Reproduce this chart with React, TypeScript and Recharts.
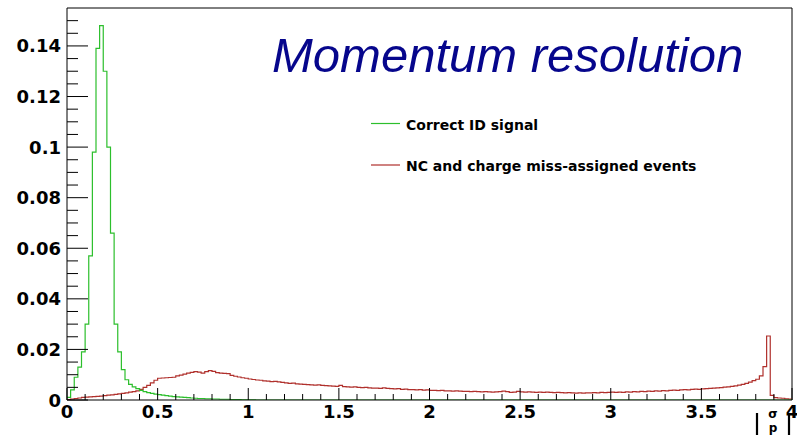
import React from 'react';
import { LineChart, Line, XAxis, YAxis, ReferenceLine, Legend } from 'recharts';

// Histogram bins: width 0.02 over |sigma/p| in [0, 4]
const BIN_WIDTH = 0.02;
const N_BINS = 200;

// Correct ID signal (green)
const correctIdSignal = [
  0.001, 0.004, 0.009, 0.013, 0.019, 0.030, 0.057, 0.098, 0.139, 0.148,
  0.130, 0.100, 0.066, 0.030, 0.019, 0.012, 0.008, 0.0062, 0.0052, 0.0045,
  0.0038, 0.0033, 0.0029, 0.0026, 0.0023, 0.0021, 0.0019, 0.0017, 0.0015, 0.0013,
  0.0012, 0.0011, 0.0010, 0.0009, 0.0008, 0.0007, 0.0006, 0.0006, 0.0005, 0.0005,
  0.0004, 0.0004, 0.0003, 0.0003, 0.0003, 0.0002, 0.0002, 0.0002, 0.0001, 0.0001,
  0.0001, 0.0001, 0, 0, 0, 0, 0, 0, 0, 0,
  0, 0, 0, 0, 0, 0, 0, 0, 0, 0,
  0, 0, 0, 0, 0, 0, 0, 0, 0, 0,
  0, 0, 0, 0, 0, 0, 0, 0, 0, 0,
  0, 0, 0, 0, 0, 0, 0, 0, 0, 0,
  0, 0, 0, 0, 0, 0, 0, 0, 0, 0,
  0, 0, 0, 0, 0, 0, 0, 0, 0, 0,
  0, 0, 0, 0, 0, 0, 0, 0, 0, 0,
  0, 0, 0, 0, 0, 0, 0, 0, 0, 0,
  0, 0, 0, 0, 0, 0, 0, 0, 0, 0,
  0, 0, 0, 0, 0, 0, 0, 0, 0, 0,
  0, 0, 0, 0, 0, 0, 0, 0, 0, 0,
  0, 0, 0, 0, 0, 0, 0, 0, 0, 0,
  0, 0, 0, 0, 0, 0, 0, 0, 0, 0,
  0, 0, 0, 0, 0, 0, 0, 0, 0, 0,
];

// NC and charge miss-assigned events (red)
const missAssigned = [
  0.0002, 0.0004, 0.0006, 0.0008, 0.001, 0.0011, 0.0012, 0.0013, 0.0014, 0.0015,
  0.0017, 0.0019, 0.002, 0.0022, 0.0024, 0.0026, 0.0028, 0.0031, 0.0033, 0.0036,
  0.0042, 0.005, 0.0058, 0.0068, 0.0078, 0.0086, 0.0087, 0.0088, 0.0089, 0.009,
  0.0095, 0.0098, 0.0102, 0.0106, 0.0109, 0.0112, 0.011, 0.0106, 0.0112, 0.0116,
  0.0113, 0.0108, 0.0106, 0.0105, 0.0104, 0.0097, 0.0094, 0.0091, 0.0088, 0.0086,
  0.0083, 0.0081, 0.0079, 0.0078, 0.0076, 0.0075, 0.0073, 0.0074, 0.0072, 0.007,
  0.0068, 0.0066, 0.0067, 0.0064, 0.0063, 0.0062, 0.0061, 0.006, 0.0059, 0.006,
  0.0058, 0.0057, 0.0056, 0.0055, 0.0054, 0.0058, 0.0053, 0.0052, 0.0051, 0.0052,
  0.005, 0.0049, 0.005, 0.0048, 0.0047, 0.0047, 0.0046, 0.0048, 0.0046, 0.0045,
  0.0044, 0.0045, 0.0042, 0.0043, 0.0041, 0.0041, 0.004, 0.0041, 0.0039, 0.004,
  0.0038, 0.0038, 0.0037, 0.0038, 0.0036, 0.0036, 0.0035, 0.0036, 0.0035, 0.0034,
  0.0034, 0.0033, 0.0034, 0.0033, 0.0032, 0.0033, 0.0032, 0.0031, 0.0032, 0.0033,
  0.0035, 0.0033, 0.003, 0.0031, 0.0034, 0.0032, 0.0031, 0.0032, 0.0031, 0.003,
  0.0031, 0.003, 0.0031, 0.003, 0.0029, 0.003, 0.0029, 0.0028, 0.0029, 0.0028,
  0.0027, 0.0028, 0.0027, 0.0028, 0.0028, 0.0029, 0.0028, 0.003, 0.0029, 0.003,
  0.0031, 0.003, 0.0031, 0.003, 0.0032, 0.0031, 0.0033, 0.0032, 0.0034, 0.0033,
  0.0035, 0.0034, 0.0036, 0.0035, 0.0037, 0.0036, 0.0038, 0.0039, 0.0038, 0.004,
  0.0041, 0.004, 0.0042, 0.0043, 0.0042, 0.0044, 0.0045, 0.0046, 0.0047, 0.0048,
  0.0049, 0.0051, 0.0052, 0.0054, 0.0056, 0.0059, 0.0062, 0.0066, 0.0071, 0.0077,
  0.0082, 0.0095, 0.0132, 0.0253, 0.0018, 0.0009, 0.0008, 0.0007, 0.0005, 0.0004,
];

const X_MAX = 4;
const Y_MAX = 0.155;
const xMajorLabels = ['0', '0.5', '1', '1.5', '2', '2.5', '3', '3.5', '4'];
const yMajorLabels = ['0', '0.02', '0.04', '0.06', '0.08', '0.1', '0.12', '0.14'];
const X_MINOR_STEP = 0.1;
const Y_MINOR_STEP = 0.005;

const xTicks = Array.from({ length: Math.round(X_MAX / X_MINOR_STEP) + 1 }, (_, i) => +(i * X_MINOR_STEP).toFixed(2));
const yTicks = Array.from({ length: 31 }, (_, i) => +(i * Y_MINOR_STEP).toFixed(3));

const data = Array.from({ length: N_BINS + 1 }, (_, i) => ({
  x: +(i * BIN_WIDTH).toFixed(2),
  g: correctIdSignal[Math.min(i, N_BINS - 1)],
  r: missAssigned[Math.min(i, N_BINS - 1)],
}));

const GREEN = '#2cbf2c';
const RED = '#b0302c';
const TICK_FONT = '"DejaVu Sans", sans-serif';

const labelFor = (v: number, labels: string[]) => labels.find((l) => Math.abs(parseFloat(l) - v) < 1e-9);

const XTick = (props: any) => {
  const { x, y, payload } = props;
  const v = payload.value;
  const lab = labelFor(v, xMajorLabels);
  return (
    <g>
      <line x1={x} y1={y} x2={x} y2={y - (lab ? 12 : 6)} stroke="#000" strokeWidth={1} />
      {lab && (
        <text x={x} y={y + 18} textAnchor="middle" fontFamily={TICK_FONT} fontWeight="bold" fontSize={18} fill="#000">
          {lab}
        </text>
      )}
    </g>
  );
};

const YTick = (props: any) => {
  const { x, y, payload } = props;
  const v = payload.value;
  const lab = labelFor(v, yMajorLabels);
  return (
    <g>
      <line x1={x} y1={y} x2={x + (lab ? 21 : 11)} y2={y} stroke="#000" strokeWidth={1} />
      {lab && (
        <text x={x - 6} y={y + 6.5} textAnchor="end" fontFamily={TICK_FONT} fontWeight="bold" fontSize={18} fill="#000">
          {lab}
        </text>
      )}
    </g>
  );
};

const AxisTitle = (props: any) => {
  const vb = props.viewBox || { x: 67, y: 400, width: 725 };
  const r = vb.x + vb.width;
  const y0 = vb.y;
  return (
    <g fontFamily={TICK_FONT} fontWeight="bold" fill="#000">
      <line x1={r - 35} y1={y0 + 13} x2={r - 35} y2={y0 + 35} stroke="#000" strokeWidth={2.2} />
      <line x1={r - 3} y1={y0 + 13} x2={r - 3} y2={y0 + 35} stroke="#000" strokeWidth={2.2} />
      <text x={r - 19} y={y0 + 18} textAnchor="middle" fontSize={12}>σ</text>
      <text x={r - 19} y={y0 + 32} textAnchor="middle" fontSize={12}>p</text>
    </g>
  );
};

const LegendBox = () => (
  <svg width={360} height={90} style={{ display: 'block' }}>
    <line x1={9} y1={23.5} x2={38} y2={23.5} stroke={GREEN} strokeWidth={1.2} />
    <text x={44} y={30} fontFamily={TICK_FONT} fontWeight="bold" fontSize={14} fill="#000">Correct ID signal</text>
    <line x1={9} y1={65} x2={38} y2={65} stroke={RED} strokeWidth={1.2} />
    <text x={44} y={71} fontFamily={TICK_FONT} fontWeight="bold" fontSize={14} fill="#000">NC and charge miss-assigned events</text>
  </svg>
);

export default function App() {
  return (
    <div style={{ position: 'absolute', left: 0, top: 0, width: 797, height: 446, background: '#fff' }}>
      <LineChart width={797} height={446} data={data} margin={{ top: 8, right: 5, bottom: 0, left: 0 }}>
        <XAxis
          dataKey="x"
          type="number"
          domain={[0, X_MAX]}
          ticks={xTicks}
          interval={0}
          tickSize={0}
          tickMargin={0}
          tickLine={false}
          tick={<XTick />}
          axisLine={{ stroke: '#000', strokeWidth: 1 }}
          height={46}
          allowDataOverflow
          label={<AxisTitle />}
        />
        <YAxis
          type="number"
          domain={[0, Y_MAX]}
          ticks={yTicks}
          interval={0}
          tickSize={0}
          tickMargin={0}
          tickLine={false}
          tick={<YTick />}
          axisLine={{ stroke: '#000', strokeWidth: 1 }}
          width={67}
          allowDataOverflow
        />
        <ReferenceLine y={Y_MAX} stroke="#000" strokeWidth={1} />
        <ReferenceLine x={X_MAX} stroke="#000" strokeWidth={1} />
        <Legend
          layout="vertical"
          align="center"
          verticalAlign="middle"
          content={<LegendBox />}
          wrapperStyle={{ left: 362, top: 100, width: 360, height: 90 }}
        />
        <Line dataKey="r" name="NC and charge miss-assigned events" type="stepAfter" stroke={RED} strokeWidth={1.2} dot={false} activeDot={false} isAnimationActive={false} />
        <Line dataKey="g" name="Correct ID signal" type="stepAfter" stroke={GREEN} strokeWidth={1.2} dot={false} activeDot={false} isAnimationActive={false} />
        <text x={272} y={72} fontFamily='"Liberation Sans", Arial, sans-serif' fontStyle="italic" fontSize={49} fill="#06068c">
          Momentum resolution
        </text>
      </LineChart>
    </div>
  );
}
